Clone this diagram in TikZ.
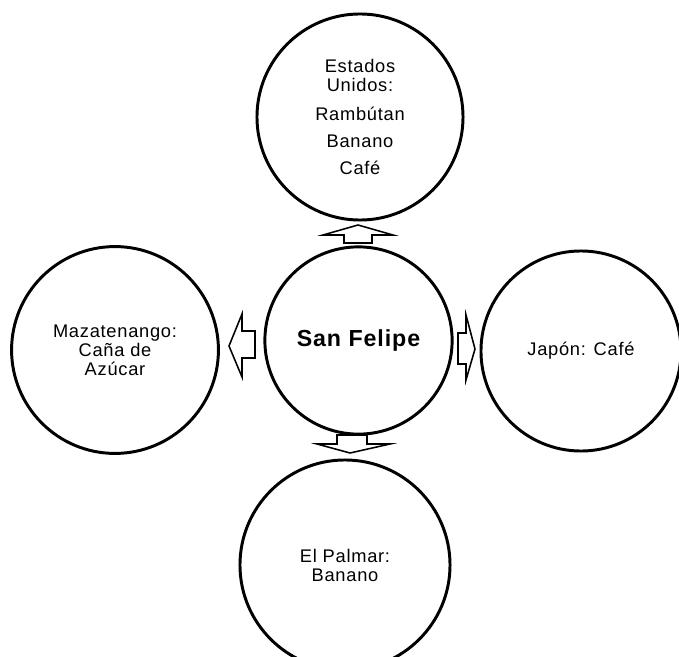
\documentclass[tikz,border=0pt]{standalone}
\usepackage{fontspec}
\setmainfont{Liberation Sans}[LetterSpace=4]
\tikzset{
  kreis/.style={circle,draw,line width=2.1pt,inner sep=0pt,align=center,
    font=\fontsize{13}{13.5}\selectfont},
  pfeil/.style={draw,line width=1.1pt,line join=miter}
}
\begin{document}
\begin{tikzpicture}[x=0.025cm,y=-0.025cm]
  % Rahmen
  \useasboundingbox (0,0) rectangle (679,657);
  \clip (0,0) rectangle (679,657);

  % Kreise
  \node[kreis,minimum size=4.68cm] (sanfelipe) at (358.5,340.5)
    {\fontsize{16.5}{19}\selectfont\bfseries San Felipe};
  \node[kreis,minimum size=5.15cm] (eeuu) at (360,117)
    {Estados\\Unidos:\\[7pt]Rambútan\\[6pt]Banano\\[6pt]Café};
  \node[kreis,minimum size=5.17cm] (mazate) at (115,350)
    {Mazatenango:\\Caña de\\Azúcar};
  \node[kreis,minimum size=5.0cm] (japon) at (581,351) {Japón: Café};
  \node[kreis,minimum size=5.25cm] (palmar) at (345,565) {El Palmar:\\Banano};

  % Pfeile
  \draw[pfeil] (358,225) -- (393,235) -- (372,235) -- (372,243)
    -- (344,243) -- (344,235) -- (323,235) -- cycle; % nach oben
  \draw[pfeil] (229,346) -- (242,314) -- (242,331) -- (255,331)
    -- (255,358) -- (242,358) -- (242,377) -- cycle; % nach links
  \draw[pfeil] (475,349) -- (466,315) -- (466,333) -- (458,333)
    -- (458,364) -- (466,364) -- (466,380) -- cycle; % nach rechts
  \draw[pfeil] (350,453) -- (317,444) -- (337,444) -- (337,435)
    -- (367,435) -- (367,444) -- (390,444) -- cycle; % nach unten
\end{tikzpicture}
\end{document}
